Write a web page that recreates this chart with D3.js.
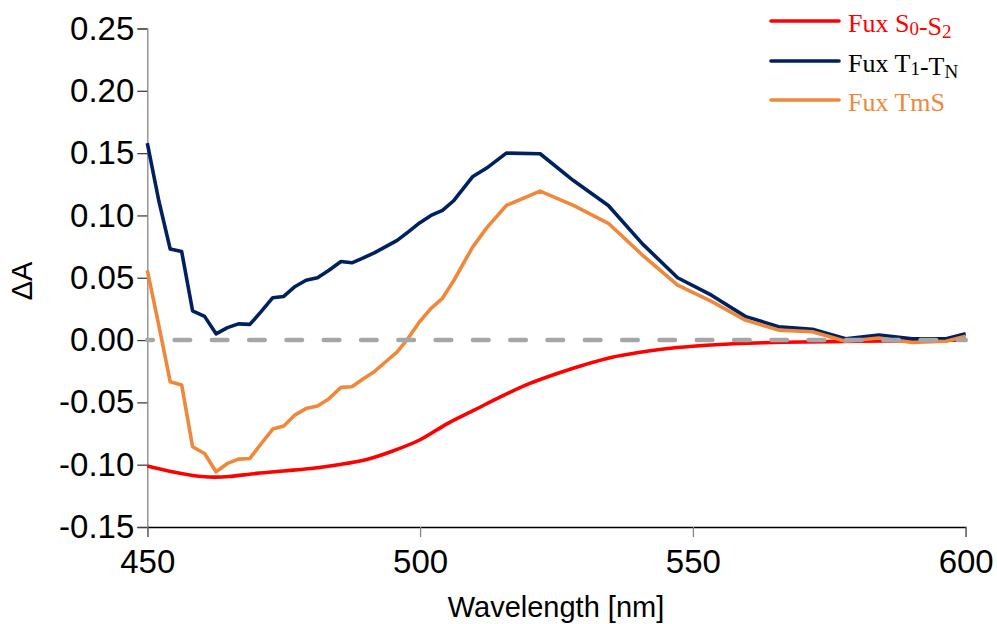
<!DOCTYPE html>
<html>
<head>
<meta charset="utf-8">
<script src="https://cdn.jsdelivr.net/npm/d3@7"></script>
<style>
  html, body { margin: 0; padding: 0; background: #fff; }
  svg { display: block; }
</style>
</head>
<body>
<svg id="chart" width="997" height="624"></svg>
<script>
// Wavelength grid shared by the T1-TN and TmS spectra (nm)
const wavelengths = [
  450.0, 452.1, 454.2, 456.3, 458.3, 460.5, 462.6, 464.7, 466.7, 468.8,
  470.9, 473.0, 475.0, 477.1, 479.1, 481.2, 483.3, 485.5, 487.5, 489.6,
  491.6, 493.7, 495.8, 497.9, 499.9, 502.0, 504.1, 506.2, 509.6, 512.2,
  515.8, 522.0, 528.1, 534.5, 540.8, 547.2, 553.4, 559.6, 565.7, 571.9,
  578.0, 584.1, 590.2, 596.4, 600.0
];

// Fux T1-TN (triplet-triplet absorption)
const tripletValues = [
  0.158, 0.112, 0.073, 0.071, 0.0235, 0.019, 0.005, 0.010, 0.013, 0.0126,
  0.023, 0.034, 0.035, 0.043, 0.048, 0.050, 0.056, 0.063, 0.062, 0.066,
  0.070, 0.075, 0.080, 0.087, 0.094, 0.100, 0.104, 0.112, 0.131, 0.138,
  0.150, 0.1495, 0.128, 0.108, 0.077, 0.050, 0.036, 0.019, 0.0107, 0.0086,
  0.001, 0.004, 0.001, 0.001, 0.005
];

// Fux TmS (triplet minus singlet)
const tmsValues = [
  0.056, 0.012, -0.0335, -0.036, -0.0856, -0.091, -0.1057, -0.099, -0.0955, -0.095,
  -0.083, -0.0714, -0.069, -0.060, -0.055, -0.053, -0.047, -0.038, -0.0375, -0.031,
  -0.0254, -0.0174, -0.0094, 0.002, 0.0147, 0.0254, 0.0335, 0.048, 0.0744, 0.090,
  0.108, 0.1195, 0.108, 0.0937, 0.068, 0.044, 0.031, 0.016, 0.008, 0.0067,
  -0.001, 0.0016, -0.002, -0.001, 0.003
];

// Fux S0-S2 ground state bleach
const groundWavelengths = [
  450, 455, 460, 462.5, 465, 470, 475, 480, 485, 490, 495, 500, 505, 510,
  515, 520, 525, 530, 535, 540, 545, 550, 555, 560, 570, 580, 590, 600
];
const groundValues = [
  -0.101, -0.106, -0.1095, -0.110, -0.1095, -0.107, -0.105, -0.103, -0.100, -0.096,
  -0.089, -0.080, -0.067, -0.056, -0.045, -0.035, -0.027, -0.020, -0.014, -0.010,
  -0.007, -0.005, -0.0035, -0.0025, -0.0015, -0.001, -0.0005, 0.000
];

const xTicks = [450, 500, 550, 600];
const yTicks = [-0.15, -0.10, -0.05, 0.00, 0.05, 0.10, 0.15, 0.20, 0.25];

const seriesNames = ["Fux S0-S2", "Fux T1-TN", "Fux TmS"];
const seriesColors = ["#ff0000", "#002060", "#f0883c"];

const svg = d3.select("#chart");
const x = d3.scaleLinear().domain([450, 600]).range([147.3, 965.7]);
const y = d3.scaleLinear().domain([-0.15, 0.25]).range([527, 28.5]);

const sansFont = "'Liberation Sans', Arial, sans-serif";
const serifFont = "'Liberation Serif', 'Times New Roman', serif";

// Y axis
const yAxis = svg.append("g").attr("transform", `translate(${x(450)},0)`)
  .call(d3.axisLeft(y).tickValues(yTicks).tickSize(10).tickPadding(3)
    .tickFormat(d3.format(".2f")));
yAxis.select(".domain").attr("stroke", "#868686").attr("stroke-width", 1.3);
yAxis.selectAll(".tick line").attr("stroke", "#404040").attr("stroke-width", 1.3);
yAxis.selectAll(".tick text")
  .attr("font-family", sansFont).attr("font-size", 33).attr("fill", "#000")
  .text(d => d3.format(".2f")(d).replace("−", "-"));

// X axis
const xAxis = svg.append("g").attr("transform", `translate(0,${y(-0.15)})`)
  .call(d3.axisBottom(x).tickValues(xTicks).tickSize(10).tickPadding(13)
    .tickFormat(d3.format("d")));
xAxis.select(".domain").attr("stroke", "#000").attr("stroke-width", 1.3);
xAxis.selectAll(".tick line").attr("stroke", "#868686").attr("stroke-width", 1.3);
xAxis.selectAll(".tick text")
  .attr("font-family", sansFont).attr("font-size", 33).attr("fill", "#000");

// Axis titles
svg.append("text")
  .attr("x", 556).attr("y", 617).attr("text-anchor", "middle")
  .attr("font-family", sansFont).attr("font-size", 29).attr("fill", "#000")
  .text("Wavelength [nm]");
svg.append("text")
  .attr("transform", "translate(32,281) rotate(-90)")
  .attr("text-anchor", "middle")
  .attr("font-family", sansFont).attr("font-size", 29).attr("fill", "#000")
  .text("ΔA");

// Spectra
const line = d3.line().x(d => x(d[0])).y(d => y(d[1]));
const smoothLine = d3.line().x(d => x(d[0])).y(d => y(d[1])).curve(d3.curveCatmullRom);

const plot = svg.append("g");
plot.append("path")
  .datum(groundWavelengths.map((w, i) => [w, groundValues[i]]))
  .attr("d", smoothLine).attr("fill", "none")
  .attr("stroke", seriesColors[0]).attr("stroke-width", 3.6)
  .attr("stroke-linejoin", "round");
plot.append("path")
  .datum(wavelengths.map((w, i) => [w, tripletValues[i]]))
  .attr("d", line).attr("fill", "none")
  .attr("stroke", seriesColors[1]).attr("stroke-width", 3.6)
  .attr("stroke-linejoin", "round");
plot.append("path")
  .datum(wavelengths.map((w, i) => [w, tmsValues[i]]))
  .attr("d", line).attr("fill", "none")
  .attr("stroke", seriesColors[2]).attr("stroke-width", 3.6)
  .attr("stroke-linejoin", "round");

// Zero reference line
plot.append("path")
  .datum([[450, 0], [600, 0]])
  .attr("d", line).attr("fill", "none")
  .attr("stroke", "#a6a6a6").attr("stroke-width", 4.6)
  .attr("stroke-linecap", "round")
  .attr("stroke-dasharray", "15.5 21.8")
  .attr("stroke-dashoffset", 10);

// Legend
const legend = svg.append("g");
const legendRows = [21, 61, 100];
legendRows.forEach((ly, i) => {
  legend.append("line")
    .attr("x1", 771).attr("x2", 839).attr("y1", ly).attr("y2", ly)
    .attr("stroke", seriesColors[i]).attr("stroke-width", 3.6)
    .attr("stroke-linecap", "round");
});
const legendText = (i, parts) => {
  const t = legend.append("text")
    .attr("x", 848).attr("y", legendRows[i] + 10.5)
    .attr("font-family", serifFont).attr("font-size", 26)
    .attr("fill", i === 1 ? "#000" : seriesColors[i]);
  parts.forEach(([s, sub]) => {
    t.append("tspan")
      .attr("font-size", sub ? 19 : 26)
      .attr("dy", sub ? 3 : 0)
      .text(s);
    if (sub) t.append("tspan").attr("dy", -3).text("");
  });
};
legendText(0, [["Fux S", false], ["0", true], ["-S", false], ["2", true]]);
legendText(1, [["Fux T", false], ["1", true], ["-T", false], ["N", true]]);
legendText(2, [["Fux TmS", false]]);
</script>
</body>
</html>
